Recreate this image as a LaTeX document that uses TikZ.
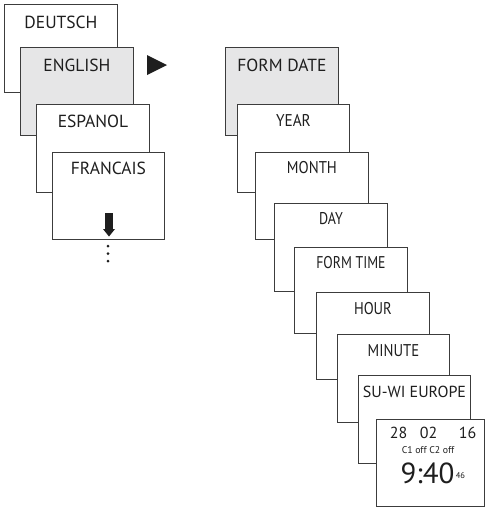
\documentclass[tikz,border=0pt]{standalone}
\usepackage{fontspec}
\usepackage{graphicx}
\setmainfont{PT Sans}
\definecolor{boxline}{HTML}{3C3C3C}
\definecolor{selfill}{HTML}{E6E6E7}
\definecolor{ink}{HTML}{1E1E1E}
\newcommand{\hsc}[2]{\scalebox{#1}[1]{#2}}
\begin{document}
\begin{tikzpicture}[x=1pt,y=-1pt,
  box/.style={draw=boxline, line width=0.9pt, fill=white, anchor=north west,
              inner sep=0pt, minimum width=113pt, minimum height=88pt},
  sel/.style={box, fill=selfill},
  lab/.style={anchor=base, inner sep=0pt, text=ink, font=\fontsize{17.5}{20}\selectfont},
  labs/.style={anchor=base, inner sep=0pt, text=ink, font=\fontsize{17}{20}\selectfont},
  big/.style={anchor=base, inner sep=0pt, text=ink, font=\fontsize{16}{18}\selectfont},
  tiny/.style={anchor=base, inner sep=0pt, text=ink, font=\fontsize{9.8}{10}\selectfont},
  huge/.style={anchor=base, inner sep=0pt, text=ink, font=\fontsize{29}{32}\selectfont},
  supx/.style={anchor=base west, inner sep=0pt, text=ink, font=\fontsize{8.5}{9}\selectfont}]
\useasboundingbox (0,0) rectangle (485,507);
% left stack
\node[box] (de) at (4,4) {};
\node[lab] (deT) at ([yshift=-24pt]de.north) {DEUTSCH};
\node[sel] (en) at (20,47) {};
\node[lab] (enT) at ([yshift=-24pt]en.north) {ENGLISH};
\node[box] (es) at (36,104) {};
\node[lab] (esT) at ([yshift=-23pt]es.north) {ESPANOL};
\node[box, minimum width=112pt, minimum height=87pt] (fr) at (52,152) {};
\node[lab] (frT) at ([yshift=-22pt]fr.north) {FRANCAIS};
% down arrow and dots
\fill[ink] (105,213) rectangle (112.5,229);
\fill[ink] (103,229) -- (115,229) -- (109,236.5) -- cycle;
\fill[ink] (108,246) circle (1.5);
\fill[ink] (108,253.5) circle (1.5);
\fill[ink] (108,261) circle (1.5);
% right pointer
\fill[ink] (147,55) -- (167,65) -- (147,75) -- cycle;
% right stack
\node[sel] (fd) at (225,47) {};
\node[lab] (fdT) at ([yshift=-24pt]fd.north) {FORM DATE};
\node[box, minimum width=112pt] (yr) at (237,104) {};
\node[labs] (yrT) at ([yshift=-22pt]yr.north) {\hsc{0.9}{YEAR}};
\node[box, minimum height=87pt] (mo) at (255,152) {};
\node[labs] (moT) at ([yshift=-21pt]mo.north) {\hsc{0.87}{MONTH}};
\node[box] (dy) at (274,203) {};
\node[labs] (dyT) at ([yshift=-21pt]dy.north) {\hsc{0.82}{DAY}};
\node[box, minimum height=86pt] (ft) at (294,247) {};
\node[labs] (ftT) at ([yshift=-21pt]ft.north) {\hsc{0.81}{FORM TIME}};
\node[box, minimum height=87pt] (hr) at (316,292) {};
\node[labs] (hrT) at ([yshift=-22pt]hr.north) {\hsc{0.855}{HOUR}};
\node[box, minimum width=112pt] (mi) at (337,334) {};
\node[labs] (miT) at ([yshift=-22pt]mi.north) {\hsc{0.865}{MINUTE}};
\node[box, minimum width=112pt] (su) at (358,375) {};
\node[anchor=base, inner sep=0pt, text=ink, font=\fontsize{16}{18}\selectfont] (suT) at ([yshift=-22.5pt]su.north) {SU-WI EUROPE};
% clock display
\node[box, minimum width=108pt, minimum height=87pt] (cl) at (376,419) {};
\node[big] (d1) at (398.5,438.5) {28};
\node[big] (d2) at (428.5,438.5) {02};
\node[big] (d3) at (467.5,438.5) {16};
\node[tiny] (ch) at (428,453) {C1 off C2 off};
\node[huge] (tm) at (427.5,483) {9:40};
\node[supx] (sec) at ([xshift=1pt,yshift=5pt]tm.base east) {46};
\end{tikzpicture}
\end{document}
